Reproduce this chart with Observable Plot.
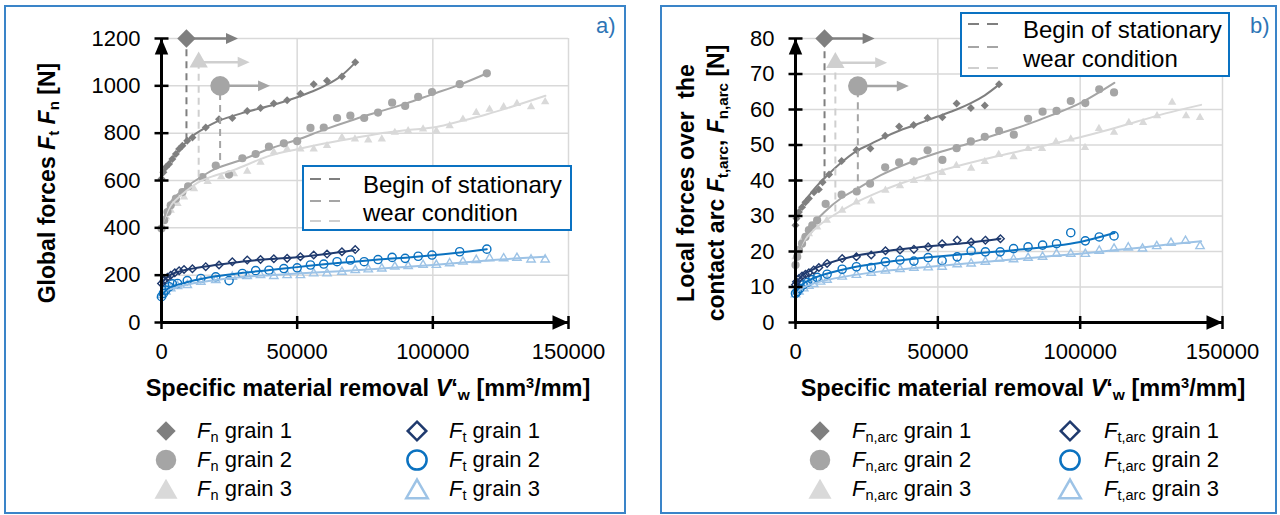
<!DOCTYPE html>
<html><head><meta charset="utf-8">
<script src="https://cdn.jsdelivr.net/npm/d3@7"></script>
<script src="https://cdn.jsdelivr.net/npm/@observablehq/plot@0.6"></script>
<style>
body{margin:0;background:#fff;font-family:"Liberation Sans",Arial,Helvetica,sans-serif;color:#000;}
#root{position:relative;width:1280px;height:515px;overflow:hidden;background:#fff;}
sub{font-size:0.66em;vertical-align:-0.28em;line-height:0;}
sup{font-size:0.62em;vertical-align:0.55em;line-height:0;}
</style></head><body><div id="root"></div>
<script>
// ---------- axes / categories ----------
const xTicks = [0, 50000, 100000, 150000];
const xTickLabels = ["0", "50000", "100000", "150000"];
const yTicksA = [0, 200, 400, 600, 800, 1000, 1200];
const yTicksB = [0, 10, 20, 30, 40, 50, 60, 70, 80];
const grains = ["grain 1", "grain 2", "grain 3"];

// ---------- panel a) global forces [V'w, N] ----------
const aFn1 = [[0,607],[700,635],[1600,656],[2800,670],[4000,691],[5300,712],[6500,733],[7700,747],[9500,768],[11400,782],[16300,824],[21200,859],[26100,864],[31600,894],[36500,906],[41400,925],[46300,939],[51200,967],[56100,1007],[61000,1021],[66500,1039],[71400,1100]];
const aFn1Trend = [[0,612],[2500,670],[5000,708],[10800,782],[15000,815],[20600,850],[30400,887],[41400,920],[50000,952],[56000,978],[61000,1005],[66000,1040],[71400,1098]];
const aFn2 = [[0,397],[1000,432],[2200,467],[3400,495],[5300,523],[7700,551],[9800,575],[15100,614],[20000,663],[24900,625],[29800,694],[34700,712],[39600,743],[45100,757],[50000,766],[54900,822],[59800,824],[64700,864],[69600,874],[74700,864],[79800,887],[85000,929],[89800,915],[94600,953],[99700,974],[109900,1007],[119900,1053]];
const aFn2Trend = [[0,400],[1500,460],[3400,510],[10000,580],[14500,614],[20000,650],[30400,691],[40000,735],[50000,772],[60000,815],[71300,859],[80000,890],[90000,925],[99700,964],[110000,1005],[120000,1053]];
const aFn3 = [[0,404],[1600,446],[3400,474],[5900,502],[8300,530],[12000,565],[17000,595],[22000,615],[26700,628],[31600,639],[36500,677],[41400,720],[46300,733],[51200,733],[56100,733],[61000,747],[66500,782],[71300,775],[76200,771],[81200,775],[86000,803],[90900,810],[96400,817],[101300,810],[106200,831],[111100,859],[116000,887],[120900,901],[126100,911],[131000,925],[136200,911],[141400,932]];
const aFn3Trend = [[0,410],[1500,450],[3400,495],[8000,545],[14500,598],[20000,622],[26700,645],[40000,705],[50000,732],[60000,756],[71300,780],[80000,798],[90000,812],[101300,826],[110000,850],[120000,880],[130000,915],[141500,958]];
const aFt1 = [[0,165],[1000,179],[2200,191],[3400,200],[4900,210],[6500,219],[8300,224],[11400,227],[16300,236],[21200,243],[26100,257],[31600,264],[36500,266],[41400,269],[46300,271],[51200,278],[56100,285],[61000,289],[66500,299],[71400,308]];
const aFt1Trend = [[0,168],[2500,195],[5000,210],[10000,225],[20000,243],[30000,258],[40000,268],[50000,276],[60000,288],[71400,306]];
const aFt2 = [[0,109],[700,123],[1600,137],[2800,151],[4000,163],[5900,165],[9500,177],[14500,186],[20000,193],[24900,177],[29800,207],[34700,219],[39600,221],[45100,228],[50000,231],[54900,243],[59800,247],[64700,257],[69600,264],[74700,257],[79800,266],[85000,275],[89800,271],[94600,280],[99700,285],[109900,299],[119900,310]];
const aFt2Trend = [[0,112],[1200,130],[3000,148],[10000,172],[20000,195],[30000,210],[40000,222],[50000,234],[60000,246],[70000,256],[80000,266],[90000,274],[100000,284],[110000,296],[119900,310]];
const aFt3 = [[0,116],[1600,130],[3400,144],[5900,154],[9500,158],[14500,172],[20000,179],[26100,193],[31600,196],[36500,200],[41400,196],[46300,200],[51200,200],[56100,207],[61000,207],[66500,214],[71400,221],[76200,224],[81200,228],[86000,236],[90900,238],[96400,243],[101300,243],[106200,250],[111100,257],[116000,264],[120900,271],[126100,271],[131000,273],[136200,266],[141400,266]];
const aFt3Trend = [[0,118],[1200,130],[3000,140],[10000,162],[20000,180],[30000,192],[40000,200],[50000,207],[60000,213],[70000,220],[80000,227],[90000,235],[100000,243],[110000,252],[120000,262],[130000,270],[141400,278]];
// begin of stationary wear condition (grain 1, 2, 3)
const aStatX = [9200, 21600, 13700];
const aStatY = [1200, 1000, 1100];
const aStatTip = [28200, 40000, 32500];
const aStatLow = [768, 684, 614];

// ---------- panel b) local forces over the contact arc ----------
const bFn1 = [[0,27.4],[350,29.3],[1200,31.1],[2300,32.5],[3500,33.9],[4700,34.9],[6500,36.7],[8200,37.5],[9500,39.5],[11800,41.7],[16200,45.5],[21400,48.6],[26300,49],[31500,52.6],[36400,55.2],[41500,55.6],[46400,57.6],[51600,57.8],[56600,61.7],[61600,60.4],[66500,61.1],[71500,67.1]];
const bFn1Trend = [[0,28],[2000,32.5],[6500,37.5],[10000,40.5],[16000,45],[21400,48.3],[26500,50.3],[31500,52.3],[36400,54],[41500,55.5],[46400,57],[51600,58.5],[56600,60],[61600,61.8],[66500,64],[71500,67]];
const bFn2 = [[0,16.2],[600,18.5],[1200,20.4],[2300,22.2],[3500,24.1],[4700,26],[5900,27.4],[7600,28.8],[10600,33.4],[16200,36],[21500,36.9],[26200,39.1],[31500,43.7],[36400,45.1],[41500,45.4],[46400,48.5],[51600,45.8],[56600,49.1],[61600,51],[66500,52.3],[71500,54],[76700,52.9],[81700,57.4],[86800,59.4],[91700,59.6],[96700,62.4],[101800,61.8],[106700,65.7],[111900,64.8]];
const bFn2Trend = [[0,17],[2000,22],[5000,26.5],[10000,31],[16000,35],[21400,37.5],[30000,41.5],[40000,45],[50000,47.8],[60000,50.2],[70000,52.8],[80000,55.4],[90000,58.4],[100000,61.8],[112000,67.5]];
const bFn3 = [[0,18.5],[800,20.4],[2300,23.2],[4700,25],[7600,26.9],[11000,28.8],[16400,31.6],[21400,33.9],[26600,34.2],[31600,37.2],[36700,38.5],[41600,40],[46600,40.5],[51500,42.2],[56500,44.2],[61700,43.4],[66500,45.3],[71400,47.3],[76600,46.7],[81700,49],[86600,49],[91500,50.9],[96700,51.7],[101700,49.3],[106600,54.6],[111900,53.6],[117100,56.3],[122100,56.3],[127000,58.2],[132300,62],[137200,58.2],[142100,57.7]];
const bFn3Trend = [[0,18.5],[3000,23],[7000,26.5],[12000,29.5],[20000,33.3],[30000,37],[40000,40],[50000,42.5],[60000,44.7],[70000,46.7],[80000,48.5],[90000,50.3],[100000,52.2],[110000,54.3],[120000,56.6],[130000,58.9],[142500,61.3]];
const bFt1 = [[0,10.6],[350,11.5],[1200,12.4],[2300,13.1],[3500,13.6],[4700,14],[6400,14.8],[8200,15.5],[11100,16.6],[16400,18],[21400,18.5],[26600,19],[31600,20.2],[36700,20.4],[41600,20.6],[46600,21.3],[51500,22.2],[56800,23.2],[61700,22.7],[66700,23.2],[72000,23.6]];
const bFt1Trend = [[0,11],[2500,13.3],[5000,14.5],[10000,16.3],[20000,18.6],[30000,19.9],[40000,20.9],[50000,21.7],[60000,22.4],[72000,23.6]];
const bFt2 = [[0,8.2],[600,8.7],[1500,9.6],[2700,10.6],[4100,11.3],[5900,12.1],[7600,12.7],[11100,13.6],[16400,15],[21400,15.7],[26600,15.5],[31600,17.1],[36700,17.6],[41600,17.3],[46600,18.3],[51500,17.4],[56800,18.5],[61700,20.2],[66700,19.9],[71900,19.9],[76600,20.8],[81700,21.3],[86800,21.8],[91700,22.2],[96700,25.3],[101800,23],[106700,24.1],[111900,24.4]];
const bFt2Trend = [[0,8.5],[2500,10.8],[5000,12],[10000,13.5],[20000,15.5],[30000,16.8],[40000,17.8],[50000,18.6],[60000,19.3],[70000,19.9],[80000,20.6],[90000,21.5],[100000,22.7],[112000,25.2]];
const bFt3 = [[0,7.9],[1200,8.7],[2900,9.6],[4700,10.3],[6400,10.8],[8800,11.5],[11100,12],[16400,12.9],[21400,13.4],[26600,14],[31600,14.6],[36700,15],[41600,15.4],[46600,15.5],[51500,15.7],[56800,16.4],[61700,16.6],[66700,17.1],[71600,18],[76600,17.8],[81700,18.2],[86800,18.5],[91700,19.3],[96700,19.3],[101800,19.3],[106700,20.2],[111900,20.8],[116900,21.1],[121900,20.8],[126900,21.5],[131900,22.4],[137000,23],[142100,21.5]];
const bFt3Trend = [[0,8.3],[3000,10],[10000,11.8],[20000,13.3],[30000,14.4],[40000,15.2],[50000,15.9],[60000,16.6],[70000,17.3],[80000,18],[90000,18.7],[100000,19.4],[110000,20.2],[120000,21],[130000,21.9],[142500,22.9]];
const bStatX = [10200, 21900, 14000];
const bStatY = [80, 66.6, 73.2];
const bStatTip = [27800, 39800, 32200];
const bStatLow = [40.5, 36.3, 31.1];

// ---------- styles ----------
const FONT = "'Liberation Sans', Arial, Helvetica, sans-serif";
const GRID = "#d9d9d9";
const BORDER = "#3a84c8";
const BOXBLUE = "#0a72c2";
const C = {g1: "#7f7f7f", g2: "#a5a5a5", g3: "#d9d9d9", t1: "#1f3a6e", t2: "#0b72c0", t3: "#9dc3e6"};
const statColor = [C.g1, C.g2, "#cfcfcf"];
const statSym = ["diamond2", "circle", "triangle"];
const statR = [8.3, 9.8, 6.8];

const hTick = {draw(c, s) { const h = Math.sqrt(s) / 2; c.moveTo(-h, 0); c.lineTo(h, 0); }};
const vTick = {draw(c, s) { const h = Math.sqrt(s) / 2; c.moveTo(0, -h); c.lineTo(0, h); }};
const arrowUp = {draw(c, s) { const L = Math.sqrt(s); c.moveTo(0, 0); c.lineTo(-L * 0.42, L); c.lineTo(L * 0.42, L); c.closePath(); }};
const arrowRight = {draw(c, s) { const L = Math.sqrt(s); c.moveTo(0, 0); c.lineTo(-L, -L * 0.45); c.lineTo(-L, L * 0.45); c.closePath(); }};
const rFor = len => Math.sqrt(len * len / Math.PI);

const root = document.getElementById("root");
function abs(html, css) {
  const d = document.createElement("div");
  d.innerHTML = html;
  d.style.cssText = "position:absolute;" + css;
  root.appendChild(d);
  return d;
}

function panel(o) {
  const X = d => d[0], Y = d => d[1];
  const yMax = o.yTicks[o.yTicks.length - 1];
  const marks = [
    Plot.gridY(o.yTicks.slice(1), {stroke: GRID, strokeOpacity: 1, strokeWidth: 1.5}),
    Plot.gridX(xTicks.slice(1), {stroke: GRID, strokeOpacity: 1, strokeWidth: 1.5})
  ];
  o.series.forEach(s => marks.push(Plot.dot(s.pts, {
    x: X, y: Y, symbol: s.sym, r: s.r,
    fill: s.open ? "none" : s.color, stroke: s.open ? s.color : "none", strokeWidth: s.open ? 1.4 : 0
  })));
  o.series.forEach(s => marks.push(Plot.line(s.trend, {x: X, y: Y, stroke: s.color, strokeWidth: 2, curve: "catmull-rom"})));
  // begin of stationary wear condition
  const idx = [0, 1, 2];
  marks.push(Plot.ruleX(idx, {x: i => o.statX[i], y1: i => o.statLow[i], y2: i => o.statY[i], stroke: i => statColor[i], strokeWidth: 2, strokeDasharray: "7,5"}));
  marks.push(Plot.link(idx, {x1: i => o.statX[i], x2: i => o.statTip[i] - 4000, y1: i => o.statY[i], y2: i => o.statY[i], stroke: i => statColor[i], strokeWidth: 2.5}));
  idx.forEach(i => {
    marks.push(Plot.dot([i], {x: o.statTip[i], y: o.statY[i], symbol: arrowRight, r: rFor(12), fill: statColor[i], stroke: "none"}));
    marks.push(Plot.dot([i], {x: o.statX[i], y: o.statY[i], symbol: statSym[i], r: statR[i], fill: statColor[i], stroke: "none"}));
  });
  // axes with arrows
  marks.push(Plot.ruleX([0], {y1: 0, y2: yMax, stroke: "black", strokeWidth: 3}));
  marks.push(Plot.ruleY([0], {x1: 0, x2: 150000, stroke: "black", strokeWidth: 3}));
  marks.push(Plot.dot(o.yTicks, {x: 0, y: d => d, symbol: hTick, r: rFor(14), stroke: "black", strokeWidth: 2.5, fill: "none"}));
  marks.push(Plot.dot(xTicks, {x: d => d, y: 0, symbol: vTick, r: rFor(13), stroke: "black", strokeWidth: 2.5, fill: "none"}));
  marks.push(Plot.dot([yMax], {x: 0, y: d => d, symbol: arrowUp, r: rFor(16), fill: "black", stroke: "none"}));
  marks.push(Plot.dot([150000], {x: d => d, y: 0, symbol: arrowRight, r: rFor(16), fill: "black", stroke: "none"}));
  marks.push(Plot.axisY(o.yTicks, {tickSize: 0, tickPadding: 21, fontSize: 22, tickFormat: d => String(d)}));
  marks.push(Plot.axisX(xTicks, {tickSize: 0, tickPadding: 21, fontSize: 22, tickFormat: d => xTickLabels[xTicks.indexOf(d)]}));
  const svg = Plot.plot({
    width: 640, height: 372,
    marginLeft: o.marginLeft, marginRight: o.marginRight, marginTop: 38, marginBottom: 50,
    x: {domain: [0, 150000]}, y: {domain: [0, yMax]},
    style: {background: "transparent", fontFamily: FONT, fontSize: "22px", color: "black", overflow: "visible"},
    marks
  });
  svg.style.position = "absolute";
  svg.style.left = o.left + "px";
  svg.style.top = "0px";
  root.appendChild(svg);
}

function seriesFor(p) {
  return [
    {pts: p.Fn3, trend: p.Fn3T, color: C.g3, sym: "triangle", r: 3.1},
    {pts: p.Fn2, trend: p.Fn2T, color: C.g2, sym: "circle", r: 4.1},
    {pts: p.Fn1, trend: p.Fn1T, color: C.g1, sym: "diamond2", r: 3.6},
    {pts: p.Ft3, trend: p.Ft3T, color: C.t3, sym: "triangle", r: 3.1, open: true},
    {pts: p.Ft2, trend: p.Ft2T, color: C.t2, sym: "circle", r: 4.1, open: true},
    {pts: p.Ft1, trend: p.Ft1T, color: C.t1, sym: "diamond2", r: 3.4, open: true}
  ];
}

// outer frames
abs("", `left:4px;top:5px;width:622px;height:509px;border:2px solid ${BORDER};box-sizing:border-box;`);
abs("", `left:660px;top:5px;width:617px;height:509px;border:2px solid ${BORDER};box-sizing:border-box;`);

panel({left: 0, marginLeft: 161, marginRight: 72, yTicks: yTicksA,
  series: seriesFor({Fn1: aFn1, Fn1T: aFn1Trend, Fn2: aFn2, Fn2T: aFn2Trend, Fn3: aFn3, Fn3T: aFn3Trend, Ft1: aFt1, Ft1T: aFt1Trend, Ft2: aFt2, Ft2T: aFt2Trend, Ft3: aFt3, Ft3T: aFt3Trend}),
  statX: aStatX, statY: aStatY, statTip: aStatTip, statLow: aStatLow});
panel({left: 640, marginLeft: 155, marginRight: 58, yTicks: yTicksB,
  series: seriesFor({Fn1: bFn1, Fn1T: bFn1Trend, Fn2: bFn2, Fn2T: bFn2Trend, Fn3: bFn3, Fn3T: bFn3Trend, Ft1: bFt1, Ft1T: bFt1Trend, Ft2: bFt2, Ft2T: bFt2Trend, Ft3: bFt3, Ft3T: bFt3Trend}),
  statX: bStatX, statY: bStatY, statTip: bStatTip, statLow: bStatLow});

// panel letters
abs("a)", `left:596px;top:12px;font-size:22px;line-height:28px;color:#2e75b6;`);
abs("b)", `left:1250px;top:12px;font-size:22px;line-height:28px;color:#2e75b6;`);

// "Begin of stationary wear condition" boxes
function statLegend(left, top, w, h, dashYs, textLeft, textTops) {
  abs("", `left:${left}px;top:${top}px;width:${w}px;height:${h}px;border:2px solid ${BOXBLUE};background:#fff;box-sizing:border-box;`);
  const lines = dashYs.map((y, i) => `<line x1="0" x2="30" y1="${y - top}" y2="${y - top}" stroke="${statColor[i]}" stroke-width="2" stroke-dasharray="11,8"/>`).join("");
  abs(`<svg width="32" height="${h}">${lines}</svg>`, `left:${left + 8}px;top:${top}px;`);
  abs("Begin of stationary", `left:${textLeft}px;top:${textTops[0]}px;font-size:24px;line-height:28px;white-space:nowrap;`);
  abs("wear condition", `left:${textLeft}px;top:${textTops[1]}px;font-size:24px;line-height:28px;white-space:nowrap;`);
}
statLegend(302, 165, 270, 66, [179, 201, 221], 363, [171, 199]);
statLegend(960, 12, 270, 65, [24, 47, 68], 1023, [16, 45]);

// axis titles
function rotTitle(html, cx, cy) {
  abs(html, `left:${cx}px;top:${cy}px;transform:translate(-50%,-50%) rotate(-90deg);white-space:nowrap;font-size:23px;line-height:28px;font-weight:bold;`);
}
rotTitle("Global forces <i>F</i><sub>t</sub> <i>F</i><sub>n</sub> [N]", 47, 183);
rotTitle("Local forces over&nbsp; the", 686, 183);
rotTitle("contact arc <i>F</i><sub>t,arc</sub>, <i>F</i><sub>n,arc</sub> [N]", 716, 183);
const xTitle = "Specific material removal <i>V</i>‘<sub>w</sub> [mm<sup>3</sup>/mm]";
abs(xTitle, `left:68px;width:600px;top:374px;text-align:center;font-size:23.5px;line-height:28px;font-weight:bold;white-space:nowrap;`);
abs(xTitle, `left:723px;width:600px;top:374px;text-align:center;font-size:23.5px;line-height:28px;font-weight:bold;white-space:nowrap;`);

// series legends
function symSvg(type, size, color, open, dy) {
  const d = d3.symbol(type, size)();
  return `<svg width="32" height="30" viewBox="-16 -15 32 30"><path transform="translate(0,${dy || 0})" d="${d}" fill="${open ? "none" : color}" stroke="${open ? color : "none"}" stroke-width="2.5"/></svg>`;
}
const legendRows = [431, 460, 489];
const legendSyms = [
  [d3.symbolDiamond2, 240, 220, 0],
  [d3.symbolCircle, 330, 290, 0],
  [d3.symbolTriangle, 230, 200, 3]
];
const fnColors = [C.g1, C.g2, C.g3];
const ftColors = [C.t1, C.t2, C.t3];
function seriesLegend(c1Sym, c1Text, c2Sym, c2Text, sub1, sub2) {
  grains.forEach((g, i) => {
    const [type, sF, sT, dy] = legendSyms[i];
    const y = legendRows[i];
    abs(symSvg(type, sF, fnColors[i], false, dy), `left:${c1Sym - 16}px;top:${y - 15}px;`);
    abs(`<i>F</i><sub>${sub1}</sub> ${g}`, `left:${c1Text}px;top:${y - 14}px;font-size:22px;line-height:28px;white-space:nowrap;`);
    abs(symSvg(type, sT, ftColors[i], true, dy), `left:${c2Sym - 16}px;top:${y - 15}px;`);
    abs(`<i>F</i><sub>${sub2}</sub> ${g}`, `left:${c2Text}px;top:${y - 14}px;font-size:22px;line-height:28px;white-space:nowrap;`);
  });
}
seriesLegend(166, 197, 417, 449, "n", "t");
seriesLegend(820, 852, 1070, 1104, "n,arc", "t,arc");
</script></body></html>
